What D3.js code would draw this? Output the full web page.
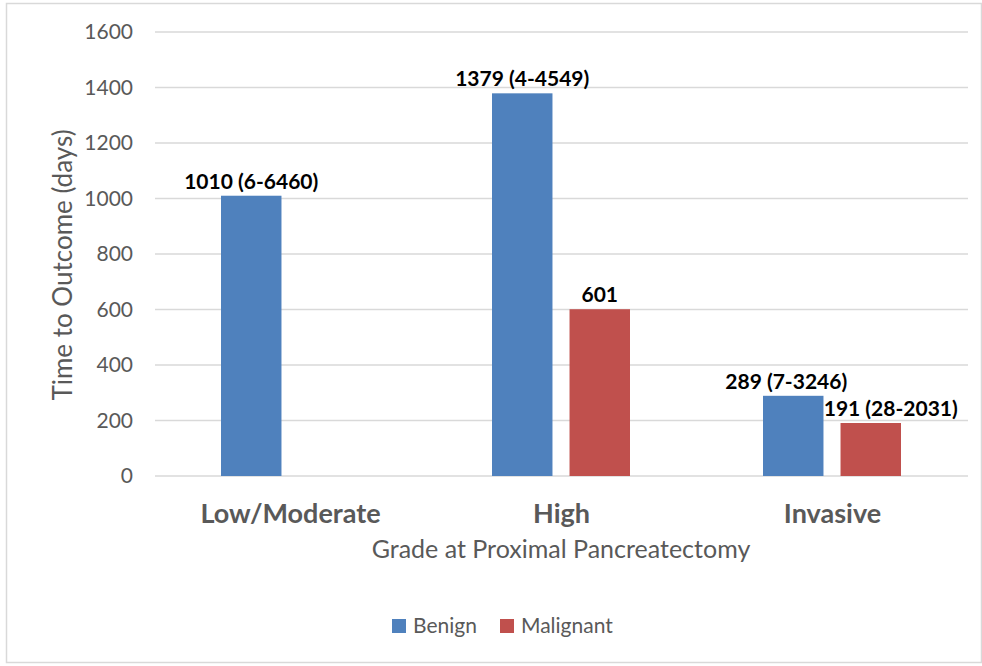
<!DOCTYPE html>
<html>
<head>
<meta charset="utf-8">
<script src="https://cdn.jsdelivr.net/npm/d3@7"></script>
<style>
  body { margin: 0; background: #fff; }
  text { font-family: Lato, "Open Sans", sans-serif; }
</style>
</head>
<body>
<div id="chart"></div>
<script>
// Data
var categories = ["Low/Moderate", "High", "Invasive"];
var seriesNames = ["Benign", "Malignant"];
var benign = [1010, 1379, 289];
var malignant = [null, 601, 191];
var benignLabels = ["1010 (6-6460)", "1379 (4-4549)", "289 (7-3246)"];
var malignantLabels = ["", "601", "191 (28-2031)"];
var yTicks = [0, 200, 400, 600, 800, 1000, 1200, 1400, 1600];

var colors = {Benign: "#4F81BD", Malignant: "#C0504D"};

var width = 982, height = 666;
var svg = d3.select("#chart")
    .append("svg")
    .attr("width", width)
    .attr("height", height);

// outer frame
svg.append("rect")
    .attr("x", 6.5).attr("y", 3.5)
    .attr("width", 975).attr("height", 659)
    .style("fill", "#fff")
    .style("stroke", "#d9d9d9")
    .style("stroke-width", 1.5);

// Scales
var x0 = d3.scaleBand().domain(categories).range([155, 968]);
var x1 = d3.scaleBand().domain(seriesNames).range([66, 204]).paddingInner(0.22);
var y = d3.scaleLinear().domain([0, 1600]).range([476, 32]);

// gridlines
svg.append("g")
    .selectAll("line")
    .data(yTicks)
    .enter().append("line")
    .attr("x1", 155).attr("x2", 968)
    .attr("y1", function(d) { return y(d); })
    .attr("y2", function(d) { return y(d); })
    .style("stroke", "#d9d9d9")
    .style("stroke-width", 1.3);

// y axis tick labels
var yAxis = d3.axisLeft(y).tickValues(yTicks).tickFormat(d3.format("d")).tickSize(0).tickPadding(22);
var gy = svg.append("g").attr("transform", "translate(155,0)").call(yAxis);
gy.select(".domain").remove();
gy.selectAll("text")
    .style("font-family", "Lato, sans-serif")
    .style("font-size", "21px")
    .style("fill", "#595959");

// x axis labels
var xAxis = d3.axisBottom(x0).tickSize(0).tickPadding(28);
var gx = svg.append("g").attr("transform", "translate(0,476)").call(xAxis);
gx.select(".domain").remove();
gx.selectAll("text")
    .style("font-family", "Lato, sans-serif")
    .style("font-size", "27px")
    .style("font-weight", "bold")
    .style("fill", "#595959");

// bars
var rows = categories.map(function(c, i) {
    return [
        {cat: c, s: "Benign", v: benign[i], label: benignLabels[i]},
        {cat: c, s: "Malignant", v: malignant[i], label: malignantLabels[i]}
    ];
});
var flat = [].concat.apply([], rows).filter(function(d) { return d.v !== null; });

svg.selectAll(".bar")
    .data(flat)
    .enter().append("rect")
    .attr("class", "bar")
    .attr("x", function(d) { return x0(d.cat) + x1(d.s); })
    .attr("width", x1.bandwidth())
    .attr("y", function(d) { return y(d.v); })
    .attr("height", function(d) { return y(0) - y(d.v); })
    .style("fill", function(d) { return colors[d.s]; });

// value labels (Excel nudged the Invasive ones apart)
var nudge = {"Invasive|Benign": -7, "Invasive|Malignant": 20};
svg.selectAll(".vlabel")
    .data(flat)
    .enter().append("text")
    .attr("class", "vlabel")
    .attr("x", function(d) {
        return x0(d.cat) + x1(d.s) + x1.bandwidth() / 2 + (nudge[d.cat + "|" + d.s] || 0);
    })
    .attr("y", function(d) { return y(d.v) - 7; })
    .attr("text-anchor", "middle")
    .style("font-size", "21px")
    .style("font-weight", "bold")
    .style("fill", "#000")
    .text(function(d) { return d.label; });

// axis titles
svg.append("text")
    .attr("x", 561).attr("y", 558)
    .attr("text-anchor", "middle")
    .style("font-size", "25px")
    .style("fill", "#595959")
    .text("Grade at Proximal Pancreatectomy");

svg.append("text")
    .attr("transform", "translate(72,265) rotate(-90)")
    .attr("text-anchor", "middle")
    .style("font-size", "26px")
    .style("fill", "#595959")
    .text("Time to Outcome (days)");

// legend
var legend = svg.append("g");
var legX = [392, 500];
seriesNames.forEach(function(s, i) {
    legend.append("rect")
        .attr("x", legX[i]).attr("y", 619)
        .attr("width", 14).attr("height", 14)
        .style("fill", colors[s]);
    legend.append("text")
        .attr("x", legX[i] + 21).attr("y", 633)
        .style("font-size", "21px")
        .style("fill", "#595959")
        .text(s);
});
</script>
</body>
</html>
